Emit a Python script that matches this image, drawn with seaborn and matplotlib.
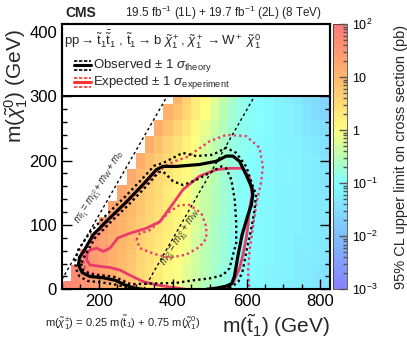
import numpy as np
import matplotlib
matplotlib.use("Agg")
import matplotlib.pyplot as plt
import seaborn as sns
from matplotlib.colors import LinearSegmentedColormap, LogNorm
from matplotlib.patches import Rectangle
from matplotlib.ticker import MultipleLocator

sns.set_style("ticks")
plt.rcParams['font.family'] = ['Liberation Sans', 'DejaVu Sans']
plt.rcParams['mathtext.fontset'] = 'custom'
plt.rcParams['mathtext.rm'] = 'Liberation Sans'
plt.rcParams['mathtext.it'] = 'Liberation Sans:italic'
plt.rcParams['mathtext.bf'] = 'Liberation Sans:bold'
plt.rcParams.update({
    'xtick.direction': 'in', 'ytick.direction': 'in',
    'xtick.top': True, 'ytick.right': True,
    'xtick.major.size': 7, 'ytick.major.size': 7,
    'xtick.minor.size': 3.5, 'ytick.minor.size': 3.5,
    'xtick.major.width': 1.0, 'ytick.major.width': 1.0,
    'xtick.minor.width': 1.0, 'ytick.minor.width': 1.0,
    'xtick.color': 'black', 'ytick.color': 'black',
    'axes.axisbelow': False,
})

# grid: stop mass columns (left edges) and LSP mass rows (centres)
mstop = list(range(100, 801, 25))
mlsp = list(range(0, 301, 25))

# log10 of the 95% CL upper limit (pb), each row starts at the diagonal cell
lim_y000 = [1.75, 1.7, 1.55, 1.4, 1.2, 1.05, 0.9, 0.7, 0.5, 0.35, 0.2, 0.05, -0.1, -0.25, -0.4,
            -0.55, -0.7, -0.8, -0.9, -1.0, -1.05, -1.1, -1.15, -1.2, -1.25, -1.3, -1.3, -1.35, -1.4]
lim_y025 = [1.7, 1.55, 1.4, 1.25, 1.1, 0.9, 0.75, 0.55, 0.4, 0.25, 0.1, -0.05, -0.2, -0.35,
            -0.5, -0.65, -0.8, -0.9, -0.95, -1.0, -1.1, -1.15, -1.2, -1.2, -1.25, -1.3, -1.35, -1.4]
lim_y050 = [1.6, 1.45, 1.3, 1.1, 0.95, 0.8, 0.6, 0.45, 0.3, 0.15, 0.0, -0.15, -0.3, -0.5,
            -0.65, -0.75, -0.9, -0.95, -1.0, -1.05, -1.1, -1.15, -1.2, -1.25, -1.3, -1.3, -1.35]
lim_y075 = [1.5, 1.35, 1.15, 1.0, 0.85, 0.65, 0.5, 0.35, 0.2, 0.05, -0.1, -0.3, -0.45,
            -0.6, -0.75, -0.9, -0.95, -1.0, -1.05, -1.1, -1.15, -1.2, -1.25, -1.25, -1.3, -1.35]
lim_y100 = [1.4, 1.2, 1.05, 0.9, 0.7, 0.55, 0.4, 0.25, 0.1, -0.05, -0.25, -0.4, -0.6,
            -0.75, -0.85, -0.95, -1.0, -1.05, -1.1, -1.15, -1.2, -1.2, -1.25, -1.3, -1.35]
lim_y125 = [1.3, 1.1, 0.95, 0.75, 0.6, 0.45, 0.3, 0.15, 0.0, -0.2, -0.4, -0.55, -0.7,
            -0.85, -0.95, -1.0, -1.05, -1.1, -1.15, -1.2, -1.2, -1.25, -1.3, -1.3]
lim_y150 = [1.25, 1.05, 0.8, 0.65, 0.5, 0.3, 0.15, 0.0, -0.2, -0.4, -0.55, -0.7, -0.85,
            -0.95, -1.0, -1.05, -1.1, -1.15, -1.2, -1.2, -1.25, -1.3, -1.35]
lim_y175 = [1.2, 0.95, 0.75, 0.55, 0.4, 0.2, 0.05, -0.15, -0.35, -0.5, -0.7, -0.85, -0.95,
            -1.0, -1.05, -1.1, -1.15, -1.15, -1.2, -1.25, -1.3, -1.35]
lim_y200 = [1.15, 0.9, 0.7, 0.5, 0.3, 0.1, -0.1, -0.3, -0.5, -0.65, -0.8, -0.9, -1.0,
            -1.05, -1.1, -1.15, -1.15, -1.2, -1.25, -1.3, -1.4]
lim_y225 = [1.15, 0.9, 0.65, 0.4, 0.2, 0.0, -0.25, -0.45, -0.6, -0.8, -0.9, -0.95, -1.05,
            -1.1, -1.15, -1.2, -1.2, -1.3, -1.35, -1.45]
lim_y250 = [1.15, 0.85, 0.6, 0.35, 0.1, -0.15, -0.35, -0.55, -0.75, -0.9, -0.95, -1.0,
            -1.1, -1.15, -1.2, -1.25, -1.35, -1.4, -1.5]
lim_y275 = [1.1, 0.85, 0.55, 0.25, 0.0, -0.25, -0.5, -0.7, -0.85, -0.95, -1.0, -1.1,
            -1.15, -1.2, -1.3, -1.4, -1.5, -1.6]
lim_y300 = [1.05, 0.65, 0.3, 0.05, -0.2, -0.45, -0.65, -0.85, -0.95, -1.0, -1.1, -1.2,
            -1.25, -1.35, -1.45, -1.55, -1.65]
lim_rows = [lim_y000, lim_y025, lim_y050, lim_y075, lim_y100, lim_y125, lim_y150,
            lim_y175, lim_y200, lim_y225, lim_y250, lim_y275, lim_y300]

# exclusion contours (m_stop, m_lsp)
obs_x = [320, 295, 270, 245, 212, 176, 155, 145, 148, 160, 185, 230, 275, 320, 356, 374,
         410, 473, 518, 545, 563, 581, 599, 615, 617, 613, 604, 588, 577, 567, 560, 545, 520, 491]
obs_y = [0, 2, 7, 14, 18, 20, 26, 38, 50, 60, 85, 111, 136, 163, 186, 191,
         191, 194, 199, 207, 207, 199, 178, 157, 147, 131, 116, 85, 53, 20, 9, 5, 2, 0]
obs_up_x = [290, 270, 240, 205, 170, 148, 138, 136, 145, 178, 223, 268, 313, 350, 373, 400,
            427, 464, 508, 545, 572, 599, 617, 626, 621, 613, 600, 590, 578, 560, 525]
obs_up_y = [0, 4, 8, 11, 13, 20, 32, 45, 62, 90, 117, 142, 169, 192, 196, 204,
            212, 207, 209, 220, 212, 191, 160, 147, 121, 95, 60, 30, 12, 4, 0]
obs_dn_x = [152, 158, 175, 200, 239, 284, 347, 410, 455, 500, 536, 554, 563, 572, 572, 568,
            559, 545, 532, 500, 464, 428, 401, 374, 362, 325, 280, 235, 190, 166, 156, 152]
obs_dn_y = [40, 30, 24, 22, 20, 8, 9, 10, 14, 17, 22, 33, 53, 72, 103, 139,
            170, 188, 191, 181, 170, 162, 168, 183, 182, 158, 131, 106, 80, 56, 46, 40]
exp_x = [437, 400, 365, 320, 284, 257, 230, 212, 176, 167, 168, 176, 194, 212, 230, 252, 284,
         329, 365, 392, 428, 473, 518, 554, 590, 608, 615, 608, 604, 599, 590, 581, 565, 545]
exp_y = [0, 3, 6, 12, 22, 30, 34, 35, 38, 46, 55, 61, 64, 59, 64, 80, 87,
         95, 105, 126, 155, 176, 186, 188, 188, 173, 147, 126, 100, 79, 53, 33, 12, 0]
exp_up_x = [310, 290, 250, 210, 172, 158, 160, 175, 200, 239, 266, 311, 347, 380, 410, 441,
            470, 500, 545, 599, 635, 644, 640, 626, 617, 608, 604, 608]
exp_up_y = [0, 8, 18, 22, 26, 38, 55, 72, 90, 113, 129, 155, 175, 192, 200, 206,
            218, 230, 240, 238, 220, 191, 168, 131, 95, 59, 27, 0]
exp_dn_x = [302, 311, 338, 365, 392, 419, 446, 478, 491, 491, 473, 437, 392, 350, 311, 302]
exp_dn_y = [77, 87, 92, 105, 121, 131, 131, 118, 97, 79, 66, 54, 49, 55, 64, 77]

# build the limit grid (staircase above the kinematic boundary stays empty)
z = np.full((len(mlsp), len(mstop)), np.nan)
for i, row in enumerate(lim_rows):
    z[i, i:i + len(row)] = 10.0 ** np.array(row)
x_edges = mstop + [825]
y_edges = [m - 12.5 for m in mlsp] + [312.5]

cmap = LinearSegmentedColormap.from_list("limit", [
    (0.0, (0.53, 0.50, 1.0)),
    (0.2, (0.50, 0.74, 1.0)),
    (0.4, (0.52, 1.0, 1.0)),
    (0.5, (0.72, 1.0, 0.70)),
    (0.6, (1.0, 1.0, 0.50)),
    (0.8, (1.0, 0.72, 0.42)),
    (1.0, (1.0, 0.47, 0.47)),
])

fig = plt.figure(figsize=(4.07, 3.40), dpi=100)
ax = fig.add_axes([0.152, 0.149, 0.658, 0.780])
mesh = ax.pcolormesh(x_edges, y_edges, np.ma.masked_invalid(z), cmap=cmap,
                     norm=LogNorm(1e-3, 1e2), zorder=0)

pink = '#ec3a6a'
dots = (0, (1.0, 1.3))
sns.lineplot(x=obs_x, y=obs_y, sort=False, estimator=None, color='black', lw=2.3, ax=ax, zorder=4)
sns.lineplot(x=obs_up_x, y=obs_up_y, sort=False, estimator=None, color='black', lw=1.7,
             linestyle=dots, ax=ax, zorder=4)
sns.lineplot(x=obs_dn_x, y=obs_dn_y, sort=False, estimator=None, color='black', lw=1.7,
             linestyle=dots, ax=ax, zorder=4)
sns.lineplot(x=exp_x, y=exp_y, sort=False, estimator=None, color=pink, lw=2.0, ax=ax, zorder=3)
sns.lineplot(x=exp_up_x, y=exp_up_y, sort=False, estimator=None, color=pink, lw=1.7,
             linestyle=dots, ax=ax, zorder=3)
sns.lineplot(x=exp_dn_x, y=exp_dn_y, sort=False, estimator=None, color=pink, lw=1.7,
             linestyle=dots, ax=ax, zorder=3)

# kinematic lines
ax.plot([100, 500], [15, 415], color='black', lw=1.0, ls=(0, (2, 2)), zorder=2)
ax.plot([321.6, 740], [0, 418.4], color='black', lw=1.0, ls=(0, (2, 2)), zorder=2)
ax.text(203, 158, r'$m_{\tilde{t}_1} = m_{\tilde{\chi}^0_1} + m_W + m_b$', fontsize=7,
        rotation=58, ha='center', va='center', rotation_mode='anchor', zorder=2)
ax.text(423, 80, r'$m_{\tilde{\chi}^{\pm}_1} = m_{\tilde{\chi}^0_1} + m_W$', fontsize=7,
        rotation=58, ha='center', va='center', rotation_mode='anchor', zorder=2)

ax.set_xlim(100, 825)
ax.set_ylim(0, 412)
ax.xaxis.set_major_locator(MultipleLocator(200))
ax.xaxis.set_minor_locator(MultipleLocator(50))
ax.yaxis.set_major_locator(MultipleLocator(100))
ax.yaxis.set_minor_locator(MultipleLocator(20))
ax.tick_params(labelsize=12)
ax.xaxis.set_zorder(5.5)
ax.yaxis.set_zorder(5.5)
for s in ax.spines.values():
    s.set_linewidth(1.5)
    s.set_color('black')
    s.set_zorder(8)

# legend box
box_y = 300 / 412
ax.add_patch(Rectangle((0, box_y), 1, 1 - box_y, transform=ax.transAxes, facecolor='white',
                       edgecolor='black', lw=1.5, zorder=6, clip_on=False))
ax.text(0.008, 0.94, r'$\mathrm{pp} \rightarrow \tilde{\mathrm{t}}_1 \bar{\tilde{\mathrm{t}}}_1$ , '
        r'$\tilde{\mathrm{t}}_1 \rightarrow \mathrm{b}\ \tilde{\chi}^+_1$, '
        r'$\tilde{\chi}^+_1 \rightarrow \mathrm{W}^+\ \tilde{\chi}^0_1$',
        transform=ax.transAxes, fontsize=9.5, va='center', ha='left', zorder=7)
for yc, col, label in [(0.845, 'black', r'Observed $\pm$ 1 $\sigma_{\mathrm{theory}}$'),
                       (0.78, '#ff3333', r'Expected $\pm$ 1 $\sigma_{\mathrm{experiment}}$')]:
    ax.plot([0.046, 0.11], [yc, yc], color=col, lw=2.2, transform=ax.transAxes, zorder=7)
    for dy in (-0.017, 0.017):
        ax.plot([0.046, 0.11], [yc + dy, yc + dy], color=col, lw=1.2, ls=(0, (2, 1)),
                transform=ax.transAxes, zorder=7)
    ax.text(0.118, yc, label, transform=ax.transAxes, fontsize=9.5, va='center', ha='left', zorder=7)

ax.set_xlabel(r'm($\tilde{\mathrm{t}}_1$) (GeV)', fontsize=15, loc='right')
ax.set_ylabel(r'm($\tilde{\chi}^0_1$) (GeV)', fontsize=15, loc='top')
ax.xaxis.set_label_coords(1.0, -0.085)
ax.yaxis.set_label_coords(-0.12, 0.98)

fig.text(0.16, 0.963, 'CMS', fontsize=10, fontweight='bold', va='center', ha='left')
fig.text(0.79, 0.963, r'19.5 fb$^{-1}$ (1L) + 19.7 fb$^{-1}$ (2L) (8 TeV)', fontsize=8.5,
         va='center', ha='right')
fig.text(0.11, 0.05, r'm($\tilde{\chi}^{\pm}_1$) = 0.25 m($\tilde{\mathrm{t}}_1$) + 0.75 m($\tilde{\chi}^0_1$)',
         fontsize=8, va='center', ha='left')

cax = fig.add_axes([0.818, 0.149, 0.035, 0.780])
cb = fig.colorbar(mesh, cax=cax)
cb.set_ticks([1e-3, 1e-2, 1e-1, 1, 10, 100])
cb.set_ticklabels([r'$10^{-3}$', r'$10^{-2}$', r'$10^{-1}$', '1', '10', r'$10^{2}$'])
cax.tick_params(which='both', direction='in', labelsize=9, color='#555555', left=False, right=True)
cax.tick_params(which='major', length=6)
cax.tick_params(which='minor', length=3)
cb.outline.set_linewidth(0.5)
cb.set_label('95% CL upper limit on cross section (pb)', fontsize=10.5, labelpad=12)

fig.savefig('out.png', dpi=100)
